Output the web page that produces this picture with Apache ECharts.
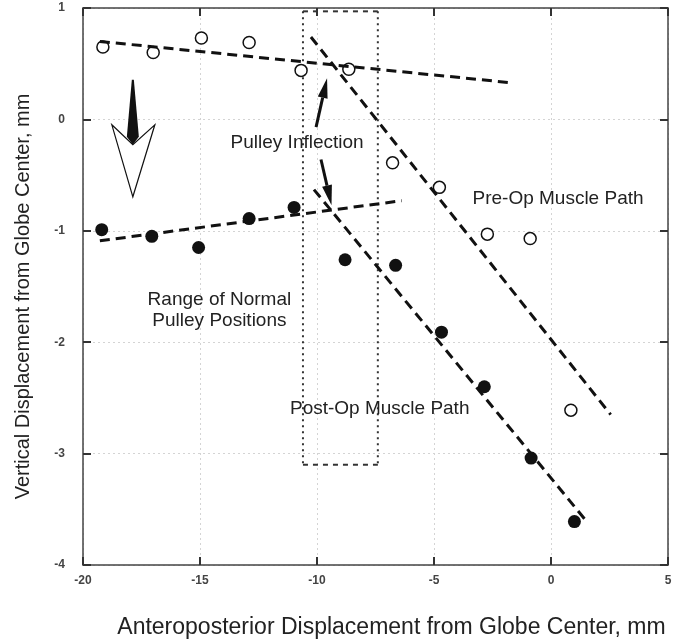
<!DOCTYPE html>
<html>
<head>
<meta charset="utf-8">
<script src="https://cdn.jsdelivr.net/npm/echarts@6/dist/echarts.min.js"></script>
<style>
html,body{margin:0;padding:0;background:#fff}
#chart{width:675px;height:644px}
</style>
</head>
<body>
<div id="chart"></div>
<script>
// open circles = pre-op, filled = post-op
var preX  = [-19.15, -17.0, -14.94, -12.9, -10.68, -8.64, -6.77, -4.77, -2.72, -0.89, 0.85];
var preY  = [0.65, 0.60, 0.73, 0.69, 0.44, 0.45, -0.39, -0.61, -1.03, -1.07, -2.61];
var postX = [-19.2, -17.06, -15.06, -12.9, -10.98, -8.8, -6.64, -4.68, -2.85, -0.85, 1.0];
var postY = [-0.99, -1.05, -1.15, -0.89, -0.79, -1.26, -1.31, -1.91, -2.40, -3.04, -3.61];

// fitted muscle paths (end points)
var preFlatX = [-19.28, -1.74],  preFlatY = [0.70, 0.33];
var postFlatX = [-19.28, -6.38], postFlatY = [-1.09, -0.73];
var preSteepX = [-10.26, 2.55],  preSteepY = [0.74, -2.65];
var postSteepX = [-10.13, 1.49], postSteepY = [-0.63, -3.60];

// range of normal pulley positions
var rangeX = [-10.6, -7.4];
var rangeY = [-3.1, 0.97];

var xTicks = [-20, 5, 5];   // min, max, step
var yTicks = [-4, 1, 1];

var FONT = "'Liberation Sans', Arial, Helvetica, sans-serif";

function pts(xs, ys) {
    var out = [];
    for (var i = 0; i < xs.length; i++) out.push([xs[i], ys[i]]);
    return out;
}
function dashLine(xs, ys) {
    return {
        type: 'line', data: pts(xs, ys), showSymbol: false, silent: true, z: 3,
        lineStyle: {color: '#111', width: 3, type: [10, 6]}
    };
}
function boxSide(data, dash) {
    return {
        type: 'line', data: data, showSymbol: false, silent: true, z: 1,
        lineStyle: {color: '#333', width: 2, type: dash}
    };
}

var chart = echarts.init(document.getElementById('chart'));

var axisCommon = {
    type: 'value',
    axisLine: {show: true, onZero: false, lineStyle: {color: '#444', width: 1.5}},
    axisTick: {show: true, inside: true, length: 8, lineStyle: {color: '#333', width: 2}},
    splitLine: {show: false}
};

var option = {
    animation: false,
    backgroundColor: '#fff',
    grid: {left: 83, right: 7, top: 8, bottom: 78},
    xAxis: [
        Object.assign({}, axisCommon, {
            min: xTicks[0], max: xTicks[1], interval: xTicks[2],
            position: 'bottom',
            axisLabel: {margin: 10, fontSize: 12, fontWeight: 'bold', color: '#444', fontFamily: FONT},
            splitLine: {show: true, lineStyle: {color: '#d4d4d4', width: 1, type: [2, 3]}},
            name: 'Anteroposterior Displacement from Globe Center, mm',
            nameLocation: 'middle', nameGap: 51,
            nameTextStyle: {fontSize: 23, color: '#222', fontFamily: FONT, padding: [0, 0, 0, 32]}
        }),
        Object.assign({}, axisCommon, {
            min: xTicks[0], max: xTicks[1], interval: xTicks[2],
            position: 'top', axisLabel: {show: false}
        })
    ],
    yAxis: [
        Object.assign({}, axisCommon, {
            min: yTicks[0], max: yTicks[1], interval: yTicks[2],
            position: 'left',
            axisLabel: {margin: 18, fontSize: 12, fontWeight: 'bold', color: '#444', fontFamily: FONT},
            splitLine: {show: true, lineStyle: {color: '#d4d4d4', width: 1, type: [2, 3]}},
            name: 'Vertical Displacement from Globe Center, mm',
            nameLocation: 'middle', nameGap: 50,
            nameTextStyle: {fontSize: 20, color: '#222', fontFamily: FONT, padding: [0, 20, 0, 0]}
        }),
        Object.assign({}, axisCommon, {
            min: yTicks[0], max: yTicks[1], interval: yTicks[2],
            position: 'right', axisLabel: {show: false}
        })
    ],
    series: [
        {
            type: 'scatter', name: 'Pre-Op', data: pts(preX, preY), symbolSize: 12, z: 2,
            itemStyle: {color: '#fff', borderColor: '#111', borderWidth: 1.5, opacity: 1}
        },
        {
            type: 'scatter', name: 'Post-Op', data: pts(postX, postY), symbolSize: 13, z: 2,
            itemStyle: {color: '#111', opacity: 1}
        },
        dashLine(preFlatX, preFlatY),
        dashLine(postFlatX, postFlatY),
        dashLine(preSteepX, preSteepY),
        dashLine(postSteepX, postSteepY),
        boxSide([[rangeX[0], rangeY[1]], [rangeX[0], rangeY[0]]], [2, 4]),
        boxSide([[rangeX[1], rangeY[1]], [rangeX[1], rangeY[0]]], [2, 4]),
        boxSide([[rangeX[0], rangeY[1]], [rangeX[1], rangeY[1]]], [5, 5]),
        boxSide([[rangeX[0], rangeY[0]], [rangeX[1], rangeY[0]]], [5, 5])
    ]
};
chart.setOption(option);

// annotations, anchored in data coordinates
var labels = [
    {text: 'Pulley Inflection', at: [-10.85, -0.21]},
    {text: 'Pre-Op Muscle Path', at: [0.30, -0.71]},
    {text: 'Range of Normal\nPulley Positions', at: [-14.17, -1.71]},
    {text: 'Post-Op Muscle Path', at: [-7.32, -2.60]}
];
var arrows = [
    {from: [-10.04, -0.07], to: [-9.57, 0.37]},
    {from: [-9.83, -0.36], to: [-9.38, -0.77]}
];
var bigArrowNotch = [-17.87, -0.228];

function px(p) { return chart.convertToPixel({gridIndex: 0}, p); }

var g = [];
labels.forEach(function (l) {
    var p = px(l.at);
    g.push({
        type: 'text', x: p[0], y: p[1], z: 10,
        style: {text: l.text, fontSize: 19, fontFamily: FONT, fill: '#222',
                align: 'center', verticalAlign: 'middle', lineHeight: 21}
    });
});
arrows.forEach(function (a) {
    var p0 = px(a.from), p1 = px(a.to);
    var dx = p1[0] - p0[0], dy = p1[1] - p0[1];
    var len = Math.sqrt(dx * dx + dy * dy);
    var ux = dx / len, uy = dy / len;
    var hl = 20, hw = 5;
    var bx = p1[0] - ux * hl, by = p1[1] - uy * hl;
    g.push({
        type: 'line', z: 10,
        shape: {x1: p0[0], y1: p0[1], x2: bx, y2: by},
        style: {stroke: '#111', lineWidth: 3}
    });
    g.push({
        type: 'polygon', z: 10,
        shape: {points: [[p1[0], p1[1]], [bx - uy * hw, by + ux * hw], [bx + uy * hw, by - ux * hw]]},
        style: {fill: '#111'}
    });
});
var n = px(bigArrowNotch);
g.push({
    type: 'polygon', z: 10,
    shape: {points: [[n[0] - 21, n[1] - 20], [n[0], n[1]], [n[0] + 22, n[1] - 20], [n[0], n[1] + 52]]},
    style: {fill: '#fff', stroke: '#111', lineWidth: 1.2}
});
g.push({
    type: 'polygon', z: 11,
    shape: {points: [[n[0] - 1, n[1] - 65], [n[0] + 1, n[1] - 65], [n[0] + 6, n[1] - 8], [n[0], n[1]], [n[0] - 6, n[1] - 8]]},
    style: {fill: '#111'}
});
chart.setOption({graphic: g});
</script>
</body>
</html>
